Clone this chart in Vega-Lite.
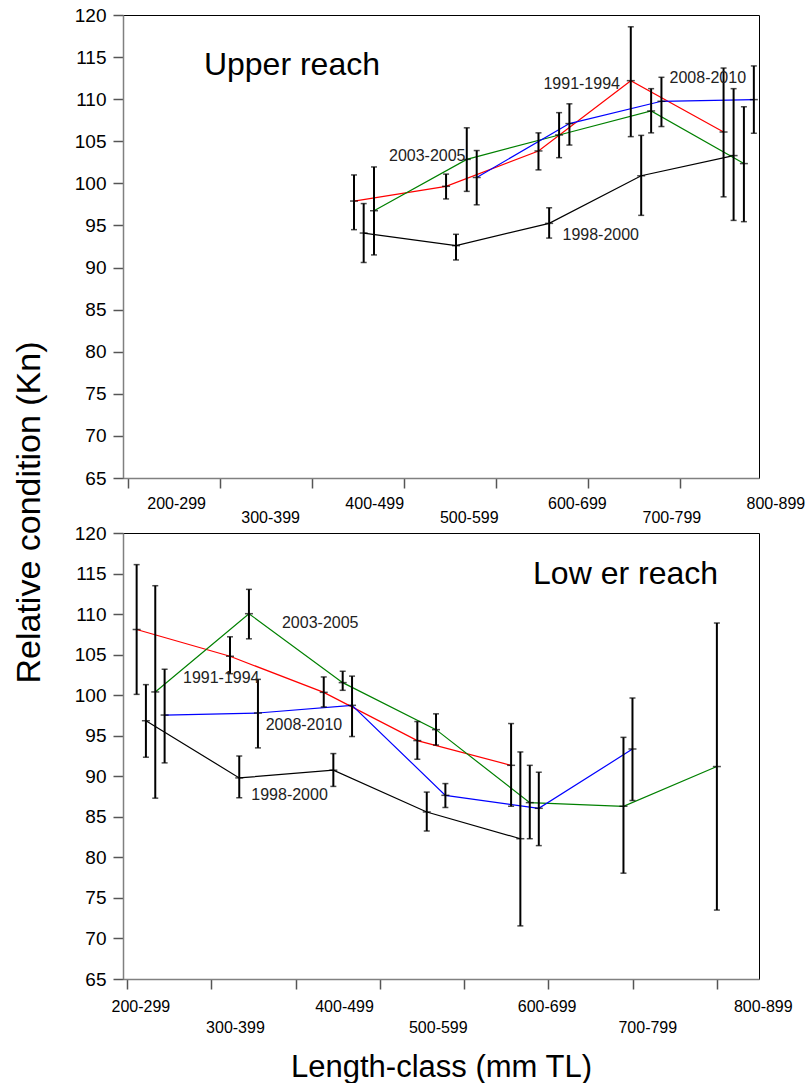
{
  "$schema": "https://vega.github.io/schema/vega-lite/v6.json",
  "background": "white",
  "padding": {"left": 11, "top": 5, "right": 5, "bottom": 0},
  "bounds": "flush",
  "spacing": 55,
  "config": {
    "font": "Liberation Sans",
    "view": {"stroke": "#000", "strokeWidth": 1},
    "axis": {
      "grid": false, "domainColor": "#808080", "domainWidth": 1.5,
      "tickColor": "#555", "tickWidth": 1.5, "tickSize": 10,
      "labelFont": "Liberation Sans", "labelFontSize": 19, "labelColor": "#000", "labelPadding": 7,
      "titleFont": "Liberation Sans", "titleFontSize": 31, "titleFontWeight": "normal", "titleColor": "#000"
    }
  },
  "datasets": {
    "kn": [
      {"reach":"Upper","series":"1991-1994","cls":"400-499","len":446,"kn":97.9,"lo":94.5,"hi":101.0},
      {"reach":"Upper","series":"1991-1994","cls":"500-599","len":546,"kn":99.65,"lo":98.15,"hi":101.1},
      {"reach":"Upper","series":"1991-1994","cls":"600-699","len":646.4,"kn":103.85,"lo":101.6,"hi":106.0},
      {"reach":"Upper","series":"1991-1994","cls":"700-799","len":746.7,"kn":112.2,"lo":105.55,"hi":118.6},
      {"reach":"Upper","series":"1991-1994","cls":"800-899","len":847.5,"kn":106.1,"lo":98.4,"hi":113.7},
      {"reach":"Upper","series":"1998-2000","cls":"400-499","len":456.5,"kn":94.1,"lo":90.6,"hi":97.6},
      {"reach":"Upper","series":"1998-2000","cls":"500-599","len":556.8,"kn":92.6,"lo":90.9,"hi":93.95},
      {"reach":"Upper","series":"1998-2000","cls":"600-699","len":658,"kn":95.25,"lo":93.5,"hi":97.1},
      {"reach":"Upper","series":"1998-2000","cls":"700-799","len":758,"kn":100.9,"lo":96.2,"hi":105.7},
      {"reach":"Upper","series":"1998-2000","cls":"800-899","len":858.4,"kn":103.3,"lo":95.6,"hi":111.25},
      {"reach":"Upper","series":"2003-2005","cls":"400-499","len":467.7,"kn":96.75,"lo":91.5,"hi":101.95},
      {"reach":"Upper","series":"2003-2005","cls":"500-599","len":568.5,"kn":102.85,"lo":99.05,"hi":106.6},
      {"reach":"Upper","series":"2003-2005","cls":"600-699","len":668.8,"kn":105.75,"lo":103.05,"hi":108.4},
      {"reach":"Upper","series":"2003-2005","cls":"700-799","len":768.8,"kn":108.6,"lo":106.0,"hi":111.25},
      {"reach":"Upper","series":"2003-2005","cls":"800-899","len":869.6,"kn":102.35,"lo":95.45,"hi":109.1},
      {"reach":"Upper","series":"2008-2010","cls":"500-599","len":579.3,"kn":100.7,"lo":97.45,"hi":103.9},
      {"reach":"Upper","series":"2008-2010","cls":"600-699","len":680,"kn":107.1,"lo":104.55,"hi":109.45},
      {"reach":"Upper","series":"2008-2010","cls":"700-799","len":780,"kn":109.75,"lo":106.75,"hi":112.6},
      {"reach":"Upper","series":"2008-2010","cls":"800-899","len":880.4,"kn":109.95,"lo":105.95,"hi":113.95},
      {"reach":"Lower","series":"1991-1994","cls":"200-299","len":211.2,"kn":108.1,"lo":100.1,"hi":116.1},
      {"reach":"Lower","series":"1991-1994","cls":"300-399","len":322,"kn":104.8,"lo":102.65,"hi":107.2},
      {"reach":"Lower","series":"1991-1994","cls":"400-499","len":433.3,"kn":100.35,"lo":98.55,"hi":102.25},
      {"reach":"Lower","series":"1991-1994","cls":"500-599","len":544.4,"kn":94.4,"lo":92.1,"hi":96.75},
      {"reach":"Lower","series":"1991-1994","cls":"600-699","len":655.7,"kn":91.35,"lo":86.3,"hi":96.5},
      {"reach":"Lower","series":"1998-2000","cls":"200-299","len":222.2,"kn":96.85,"lo":92.35,"hi":101.3},
      {"reach":"Lower","series":"1998-2000","cls":"300-399","len":333,"kn":89.8,"lo":87.35,"hi":92.5},
      {"reach":"Lower","series":"1998-2000","cls":"400-499","len":444.7,"kn":90.75,"lo":88.75,"hi":92.8},
      {"reach":"Lower","series":"1998-2000","cls":"500-599","len":555.6,"kn":85.6,"lo":83.25,"hi":88.05},
      {"reach":"Lower","series":"1998-2000","cls":"600-699","len":666.7,"kn":82.3,"lo":71.55,"hi":93.0},
      {"reach":"Lower","series":"2003-2005","cls":"200-299","len":233.3,"kn":100.4,"lo":87.3,"hi":113.5},
      {"reach":"Lower","series":"2003-2005","cls":"300-399","len":344.5,"kn":110.05,"lo":106.95,"hi":113.05},
      {"reach":"Lower","series":"2003-2005","cls":"400-499","len":455.8,"kn":101.55,"lo":100.6,"hi":102.95},
      {"reach":"Lower","series":"2003-2005","cls":"500-599","len":566.6,"kn":95.75,"lo":93.85,"hi":97.7},
      {"reach":"Lower","series":"2003-2005","cls":"600-699","len":677.9,"kn":86.75,"lo":82.3,"hi":91.35},
      {"reach":"Lower","series":"2003-2005","cls":"700-799","len":789.1,"kn":86.3,"lo":78.05,"hi":94.8},
      {"reach":"Lower","series":"2003-2005","cls":"800-899","len":900,"kn":91.2,"lo":73.5,"hi":108.9},
      {"reach":"Lower","series":"2008-2010","cls":"200-299","len":244.4,"kn":97.55,"lo":91.65,"hi":103.2},
      {"reach":"Lower","series":"2008-2010","cls":"300-399","len":355.2,"kn":97.8,"lo":93.5,"hi":101.95},
      {"reach":"Lower","series":"2008-2010","cls":"400-499","len":466.9,"kn":98.75,"lo":94.9,"hi":102.35},
      {"reach":"Lower","series":"2008-2010","cls":"500-599","len":577.7,"kn":87.65,"lo":86.15,"hi":89.1},
      {"reach":"Lower","series":"2008-2010","cls":"600-699","len":688.6,"kn":86.05,"lo":81.45,"hi":90.5},
      {"reach":"Lower","series":"2008-2010","cls":"700-799","len":799.8,"kn":93.35,"lo":87.0,"hi":99.65}
    ],
    "xlabels": [
      {"reach":"Upper","label":"200-299","len":253.3,"kn":61.9},
      {"reach":"Upper","label":"300-399","len":355.4,"kn":60.2},
      {"reach":"Upper","label":"400-499","len":468.5,"kn":61.9},
      {"reach":"Upper","label":"500-599","len":571.2,"kn":60.2},
      {"reach":"Upper","label":"600-699","len":688.7,"kn":61.9},
      {"reach":"Upper","label":"700-799","len":791.3,"kn":60.2},
      {"reach":"Upper","label":"800-899","len":904.3,"kn":61.9},
      {"reach":"Lower","label":"200-299","len":216.2,"kn":61.5},
      {"reach":"Lower","label":"300-399","len":328.5,"kn":58.9},
      {"reach":"Lower","label":"400-499","len":458.0,"kn":61.5},
      {"reach":"Lower","label":"500-599","len":569.3,"kn":58.9},
      {"reach":"Lower","label":"600-699","len":698.5,"kn":61.5},
      {"reach":"Lower","label":"700-799","len":818.0,"kn":58.9},
      {"reach":"Lower","label":"800-899","len":955.1,"kn":61.5}
    ],
    "serieslabels": [
      {"reach":"Upper","label":"2003-2005","len":484,"kn":102.64},
      {"reach":"Upper","label":"1991-1994","len":651.8,"kn":111.24},
      {"reach":"Upper","label":"2008-2010","len":788.8,"kn":111.95},
      {"reach":"Upper","label":"1998-2000","len":672.5,"kn":93.3},
      {"reach":"Lower","label":"2003-2005","len":383.7,"kn":108.25},
      {"reach":"Lower","label":"1991-1994","len":266.2,"kn":101.47},
      {"reach":"Lower","label":"2008-2010","len":364.4,"kn":95.71},
      {"reach":"Lower","label":"1998-2000","len":347.3,"kn":87.08}
    ],
    "titles": [
      {"reach":"Upper","label":"Upper reach","len":282.9,"kn":112.87},
      {"reach":"Lower","label":"Low er reach","len":681.8,"kn":113.77}
    ]
  },
  "vconcat": [
    {
      "width": 636,
      "height": 463,
      "encoding": {
        "x": {"field": "len", "type": "quantitative", "scale": {"domain": [195, 886], "nice": false, "zero": false},
              "axis": {"values": [200, 300, 400, 500, 600, 700, 800], "labels": false, "title": null}},
        "y": {"field": "kn", "type": "quantitative", "scale": {"domain": [65, 120], "nice": false, "zero": false},
              "title": "Relative condition (Kn)",
              "axis": {"values": [65, 70, 75, 80, 85, 90, 95, 100, 105, 110, 115, 120],
                       "titleX": -94, "titleY": 497, "titleBaseline": "middle", "titleAlign": "center", "titleAngle": -90, "titleFontSize": 34}}
      },
      "layer": [
        {
          "data": {"name": "kn"},
          "transform": [{"filter": "datum.reach === 'Upper'"}],
          "layer": [
            {"mark": {"type": "line", "strokeWidth": 1.2},
             "encoding": {"color": {"field": "series", "type": "nominal", "legend": null,
               "scale": {"domain": ["1991-1994", "1998-2000", "2003-2005", "2008-2010"], "range": ["#ff0000", "#000000", "#008000", "#0000ff"]}}}},
            {"mark": {"type": "rule", "color": "#000", "strokeWidth": 2},
             "encoding": {"y": {"field": "lo", "type": "quantitative", "title": "Relative condition (Kn)"}, "y2": {"field": "hi"}}},
            {"mark": {"type": "tick", "orient": "horizontal", "color": "#000", "size": 6, "thickness": 1.5},
             "encoding": {"y": {"field": "lo", "type": "quantitative", "title": "Relative condition (Kn)"}}},
            {"mark": {"type": "tick", "orient": "horizontal", "color": "#000", "size": 6, "thickness": 1.5},
             "encoding": {"y": {"field": "hi", "type": "quantitative", "title": "Relative condition (Kn)"}}},
            {"mark": {"type": "tick", "orient": "horizontal", "color": "#000", "size": 8, "thickness": 1.5}}
          ]
        },
        {
          "data": {"name": "xlabels"},
          "transform": [{"filter": "datum.reach === 'Upper'"}],
          "mark": {"type": "text", "fontSize": 16, "align": "center", "baseline": "middle", "color": "#000"},
          "encoding": {"text": {"field": "label"}}
        },
        {
          "data": {"name": "serieslabels"},
          "transform": [{"filter": "datum.reach === 'Upper'"}],
          "mark": {"type": "text", "fontSize": 16, "align": "left", "baseline": "alphabetic", "color": "#222"},
          "encoding": {"text": {"field": "label"}}
        },
        {
          "data": {"name": "titles"},
          "transform": [{"filter": "datum.reach === 'Upper'"}],
          "mark": {"type": "text", "fontSize": 32, "align": "left", "baseline": "alphabetic", "color": "#000"},
          "encoding": {"text": {"field": "label"}}
        }
      ]
    },
    {
      "width": 636,
      "height": 446,
      "encoding": {
        "x": {"field": "len", "type": "quantitative", "scale": {"domain": [195, 950], "nice": false, "zero": false},
              "title": "Length-class (mm TL)",
              "axis": {"values": [200, 300, 400, 500, 600, 700, 800, 900], "labels": false,
                       "titleY": 88, "titleBaseline": "middle", "titleAlign": "center"}},
        "y": {"field": "kn", "type": "quantitative", "scale": {"domain": [65, 120], "nice": false, "zero": false},
              "title": null,
              "axis": {"values": [65, 70, 75, 80, 85, 90, 95, 100, 105, 110, 115, 120]}}
      },
      "layer": [
        {
          "data": {"name": "kn"},
          "transform": [{"filter": "datum.reach === 'Lower'"}],
          "layer": [
            {"mark": {"type": "line", "strokeWidth": 1.2},
             "encoding": {"color": {"field": "series", "type": "nominal", "legend": null,
               "scale": {"domain": ["1991-1994", "1998-2000", "2003-2005", "2008-2010"], "range": ["#ff0000", "#000000", "#008000", "#0000ff"]}}}},
            {"mark": {"type": "rule", "color": "#000", "strokeWidth": 2},
             "encoding": {"y": {"field": "lo", "type": "quantitative", "title": null}, "y2": {"field": "hi"}}},
            {"mark": {"type": "tick", "orient": "horizontal", "color": "#000", "size": 6, "thickness": 1.5},
             "encoding": {"y": {"field": "lo", "type": "quantitative", "title": null}}},
            {"mark": {"type": "tick", "orient": "horizontal", "color": "#000", "size": 6, "thickness": 1.5},
             "encoding": {"y": {"field": "hi", "type": "quantitative", "title": null}}},
            {"mark": {"type": "tick", "orient": "horizontal", "color": "#000", "size": 8, "thickness": 1.5}}
          ]
        },
        {
          "data": {"name": "xlabels"},
          "transform": [{"filter": "datum.reach === 'Lower'"}],
          "mark": {"type": "text", "fontSize": 16, "align": "center", "baseline": "middle", "color": "#000"},
          "encoding": {"text": {"field": "label"}}
        },
        {
          "data": {"name": "serieslabels"},
          "transform": [{"filter": "datum.reach === 'Lower'"}],
          "mark": {"type": "text", "fontSize": 16, "align": "left", "baseline": "alphabetic", "color": "#222"},
          "encoding": {"text": {"field": "label"}}
        },
        {
          "data": {"name": "titles"},
          "transform": [{"filter": "datum.reach === 'Lower'"}],
          "mark": {"type": "text", "fontSize": 32, "align": "left", "baseline": "alphabetic", "color": "#000"},
          "encoding": {"text": {"field": "label"}}
        }
      ]
    }
  ]
}
